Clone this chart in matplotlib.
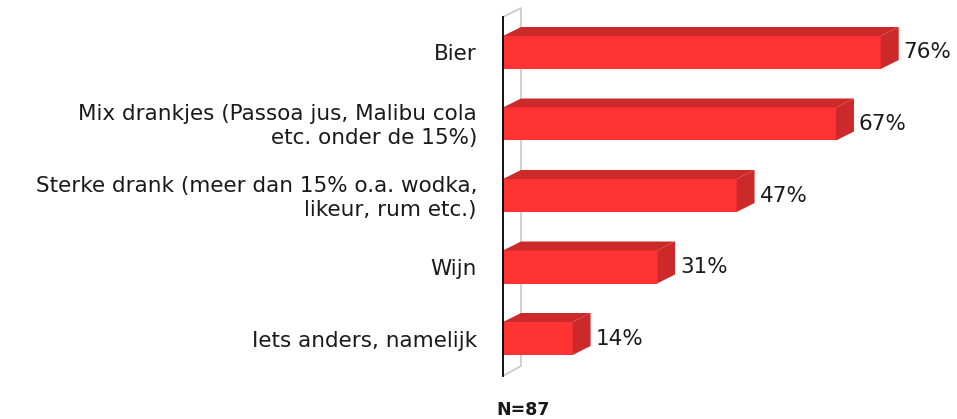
import matplotlib
matplotlib.use('Agg')
import matplotlib.pyplot as plt
from matplotlib.patches import Polygon

categories = [
    'Bier',
    'Mix drankjes (Passoa jus, Malibu cola\netc. onder de 15%)',
    'Sterke drank (meer dan 15% o.a. wodka,\nlikeur, rum etc.)',
    'Wijn',
    'Iets anders, namelijk',
]
values = [76, 67, 47, 31, 14]
value_labels = ['76%', '67%', '47%', '31%', '14%']
n_label = 'N=87'

front_color = '#FF3333'
dark_color = '#CC2A2A'
text_color = '#1a1a1a'

W, H = 957, 419
fig = plt.figure(figsize=(W / 100, H / 100), dpi=100)

# axes in pixel terms: left edge at x=503, 4.97 px per %, 71.5 px per bar row
px_per_pct = 4.97
px_per_row = 71.5
left_px, top_px, bottom_px = 503, 8, 376
xmax = (W - left_px) / px_per_pct
ax = fig.add_axes([left_px / W, 1 - bottom_px / H, (W - left_px) / W, (bottom_px - top_px) / H])
y_top = -(52.5 - top_px) / px_per_row
y_bot = y_top + (bottom_px - top_px) / px_per_row
ax.set_xlim(0, xmax)
ax.set_ylim(y_bot, y_top)
ax.axis('off')

dx = 18 / px_per_pct
dy = 9 / px_per_row
bar_h = 33 / px_per_row

# back wall (gray) and axis line
ax.plot([0, dx, dx, 0], [y_top + dy, y_top, y_bot - 10 / px_per_row, y_bot],
        color='#c8c8c8', lw=1.2, clip_on=False, zorder=1)
ax.plot([0, 0], [y_top + dy, y_bot], color='black', lw=1.3, clip_on=False, zorder=5)

for i, (cat, v, lab) in enumerate(zip(categories, values, value_labels)):
    y0 = i - bar_h / 2
    y1 = i + bar_h / 2
    ax.barh(i, v, height=bar_h, color=front_color, edgecolor='none', zorder=3)
    top = Polygon([(0, y0), (dx, y0 - dy), (v + dx, y0 - dy), (v, y0)],
                  closed=True, facecolor=dark_color, edgecolor='none', zorder=3)
    side = Polygon([(v, y0), (v + dx, y0 - dy), (v + dx, y1 - dy), (v, y1)],
                   closed=True, facecolor=dark_color, edgecolor='none', zorder=3)
    ax.add_patch(top)
    ax.add_patch(side)
    ax.text(v + dx + 5 / px_per_pct, i, lab, ha='left', va='center',
            fontsize=15.5, color=text_color, family='DejaVu Sans')
    ax.text(-26 / px_per_pct, i + 2 / px_per_row, cat, ha='right', va='center',
            multialignment='right', fontsize=15.5, color=text_color,
            family='DejaVu Sans', linespacing=1.25, clip_on=False)

fig.text(523 / W, 1 - 410 / H, n_label, ha='center', va='center', fontsize=12.5,
         fontweight='bold', color=text_color, family='DejaVu Sans')

fig.savefig('out.png', dpi=100, facecolor='white')
